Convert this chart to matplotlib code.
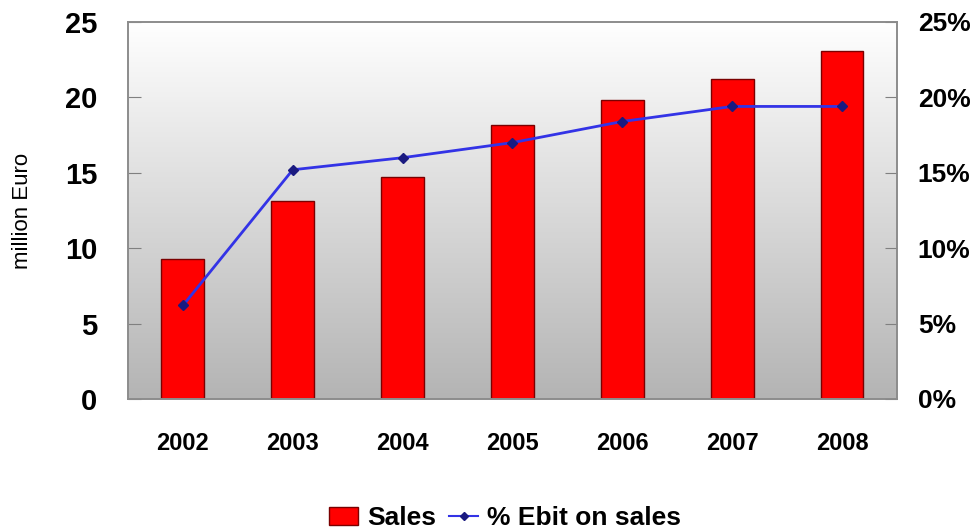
import numpy as np
import matplotlib.pyplot as plt
from matplotlib.colors import LinearSegmentedColormap
from matplotlib.patches import Patch
from matplotlib.lines import Line2D

years = ['2002', '2003', '2004', '2005', '2006', '2007', '2008']
sales = [9.3, 13.1, 14.7, 18.2, 19.8, 21.2, 23.1]
ebit_pct = [6.2, 15.2, 16.0, 17.0, 18.4, 19.4, 19.4]

plt.rcParams['font.family'] = ['Liberation Sans', 'DejaVu Sans']

fig = plt.figure(figsize=(9.77, 5.31), dpi=100)
ax = fig.add_axes([0.131, 0.2486, 0.787, 0.71])

# gradient background, white on top to gray at bottom
grad = np.linspace(1.0, 0.0, 256).reshape(-1, 1)
cmap = LinearSegmentedColormap.from_list('g', ['#b4b4b4', '#ffffff'])
ax.imshow(grad, cmap=cmap, extent=[0, 1, 0, 1], transform=ax.transAxes,
          aspect='auto', zorder=0, origin='upper')

x = np.arange(len(years))
ax.bar(x, sales, 0.39, color='#ff0000', edgecolor='#7a0000', linewidth=1.0, zorder=2)
ax.set_xlim(-0.5, 6.5)
ax.set_ylim(0, 25)
ax.set_yticks([0, 5, 10, 15, 20, 25])
ax.set_xticks(x)
ax.set_xticklabels(years, fontsize=17, fontweight='bold')
ax.tick_params(axis='x', length=0, pad=24)
ax.tick_params(axis='y', direction='in', length=9, color='#808080', labelsize=21, pad=22)
for lbl in ax.get_yticklabels():
    lbl.set_fontweight('bold')
ax.set_ylabel('million Euro', fontsize=16)
ax.yaxis.set_label_coords(-0.123, 0.5)

ax2 = ax.twinx()
ax2.plot(x, ebit_pct, color='#3333e6', linewidth=2, marker='D', markersize=5,
         markerfacecolor='#1a1a80', markeredgecolor='#1a1a80', zorder=3)
ax2.set_ylim(0, 25)
ax2.set_yticks([0, 5, 10, 15, 20, 25])
ax2.set_yticklabels(['0%', '5%', '10%', '15%', '20%', '25%'], fontsize=19, fontweight='bold')
ax2.tick_params(axis='y', direction='in', length=9, color='#808080', pad=15)

for a in (ax, ax2):
    for s in a.spines.values():
        s.set_color('#8c8c8c')
        s.set_linewidth(1.2)

handles = [Patch(facecolor='#ff0000', edgecolor='#7a0000', label='Sales'),
           Line2D([], [], color='#3333e6', linewidth=1.5, marker='D', markersize=4,
                  markerfacecolor='#1a1a80', markeredgecolor='#1a1a80', label='% Ebit on sales')]
fig.legend(handles=handles, loc='center', bbox_to_anchor=(0.517, 0.024), ncol=2, frameon=False,
           prop={'size': 19, 'weight': 'bold'}, handlelength=1.1, handletextpad=0.35,
           columnspacing=0.5)

fig.savefig('out.png', dpi=100)
